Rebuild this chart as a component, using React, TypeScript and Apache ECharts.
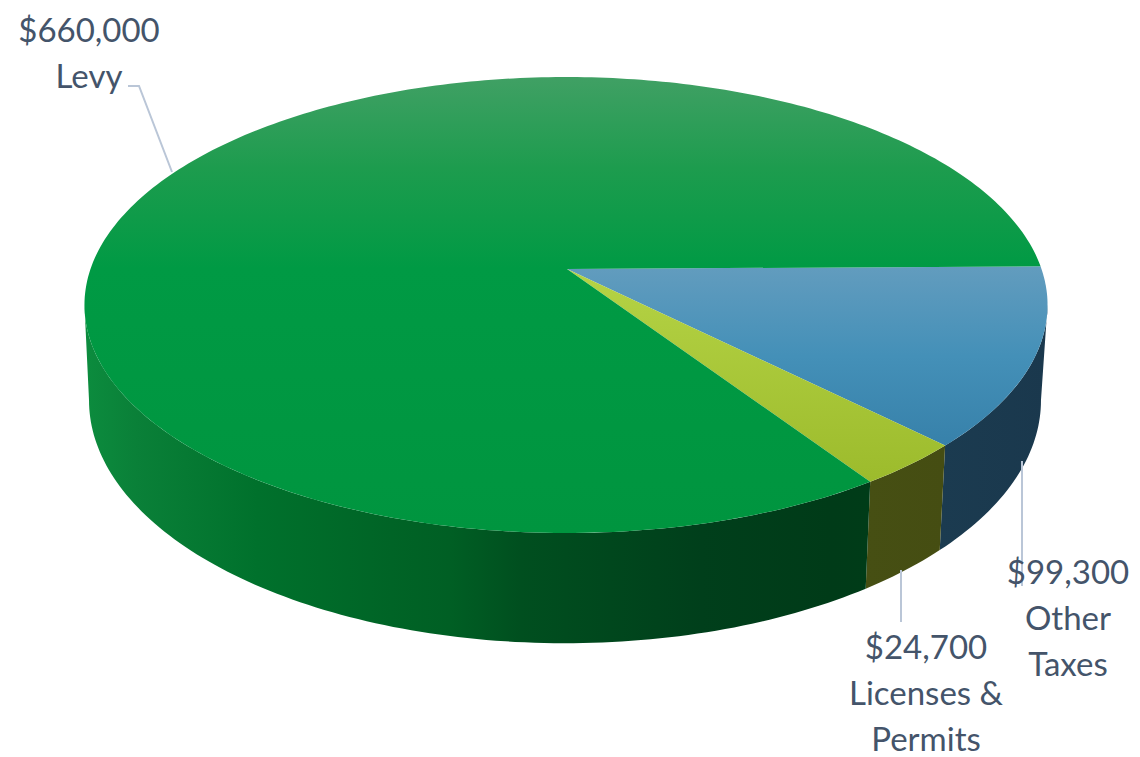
import React, { useEffect, useRef } from "react";
import * as echarts from "echarts";

const categories = ["Other\nTaxes", "Licenses &\nPermits", "Levy"];
const values = [99300, 24700, 660000];
const topColors = [
  [[0, "#629cbe"], [0.5, "#4490b8"], [1, "#3781aa"]],
  [[0, "#b4d244"], [1, "#9cbb2c"]],
  [[0, "#40a064"], [0.2, "#1d9c4e"], [0.42, "#009a44"], [1, "#00953f"]],
];
const sideColors = [
  [[0, "#1b3b50"], [1, "#1a384d"]],
  [[0, "#464f13"], [1, "#454d12"]],
  [[0, "#0c8c3e"], [0.066, "#0a8038"], [0.22, "#00712c"], [0.39, "#006426"], [0.465, "#005f24"], [0.555, "#004f1f"], [0.786, "#003f1b"], [0.95, "#003b18"], [1, "#003c18"]],
];
const topRange = [[267, 445], [280, 483], [77, 533]];
const labelPos = [[1068, 617], [926, 692], [89, 52]];
const leaderLines = [
  [[1022, 461], [1022, 586]],
  [[901, 570], [901, 622]],
  [[128, 86], [139, 86], [172, 172]],
];

const P = 0.158;
const START = -0.7;
const TOTAL = values.reduce((a, b) => a + b, 0);

const project = (deg: number, cx: number, cy: number, R: number, S: number): number[] => {
  const t = (deg * Math.PI) / 180;
  const w = 1 - P * Math.sin(t);
  return [cx + (R * Math.cos(t)) / w, cy + (S * Math.sin(t)) / w];
};
const topPt = (deg: number) => project(deg, 566, 269, 475.5, 222.3);
const botPt = (deg: number) => project(deg, 565, 362, 470, 236.8);
const VIS_A = (Math.asin(P) * 180) / Math.PI;
const VIS_B = 180 - VIS_A;

const arc = (fn: (d: number) => number[], a: number, b: number): number[][] => {
  const pts: number[][] = [];
  const n = Math.max(2, Math.ceil(Math.abs(b - a)));
  for (let i = 0; i <= n; i++) pts.push(fn(a + ((b - a) * i) / n));
  return pts;
};
const grad = (x0: number, y0: number, x1: number, y1: number, stops: any[]) =>
  new echarts.graphic.LinearGradient(
    x0, y0, x1, y1,
    stops.map((s) => ({ offset: s[0], color: s[1] })),
    true
  );

const renderItem = (params: any, api: any) => {
  const i = params.dataIndex;
  const value = api.value(0);
  let before = 0;
  for (let k = 0; k < i; k++) before += values[k];
  const a = START + (before / TOTAL) * 360;
  const b = a + (value / TOTAL) * 360;

  const children: any[] = [];
  const sa = Math.max(a, VIS_A);
  const sb = Math.min(b, VIS_B);
  if (sb > sa) {
    const pts = [...arc(topPt, sa, sb), ...arc(botPt, sb, sa)];
    const xs = pts.map((p) => p[0]);
    children.push({
      type: "polygon",
      z2: 1,
      shape: { points: pts },
      style: { fill: grad(Math.min(...xs), 0, Math.max(...xs), 0, sideColors[i]) },
    });
  }
  children.push({
    type: "polygon",
    z2: 2,
    shape: { points: [[567, 269], ...arc(topPt, a, b)] },
    style: { fill: grad(0, topRange[i][0], 0, topRange[i][1], topColors[i]) },
  });
  children.push({
    type: "polyline",
    z2: 3,
    shape: { points: leaderLines[i] },
    style: { fill: "none", stroke: "#bac6d7", lineWidth: 2 },
  });
  children.push({
    type: "text",
    z2: 4,
    x: labelPos[i][0],
    y: labelPos[i][1],
    style: {
      text: "$" + value.toLocaleString("en-US") + "\n" + categories[i],
      fill: "#44546a",
      font: "33px Lato",
      lineHeight: 46,
      align: "center",
      verticalAlign: "middle",
    },
  });
  return { type: "group", children };
};

export default function App() {
  const ref = useRef<HTMLDivElement>(null);
  useEffect(() => {
    document.body.style.margin = "0";
    const chart = echarts.init(ref.current!, undefined, { renderer: "svg" });
    chart.setOption({
      animation: false,
      backgroundColor: "#ffffff",
      series: [
        {
          type: "custom",
          coordinateSystem: "none",
          renderItem,
          data: values.map((v, i) => ({ name: categories[i], value: [v] })),
          silent: true,
        },
      ],
    });
    return () => chart.dispose();
  }, []);
  return <div ref={ref} style={{ width: 1140, height: 757 }} />;
}
